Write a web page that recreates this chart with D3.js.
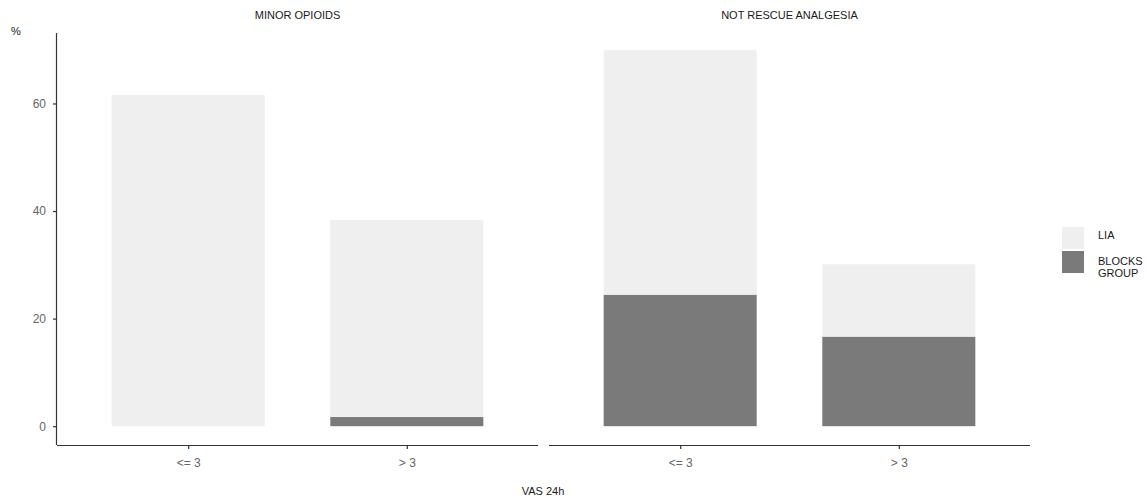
<!DOCTYPE html>
<html><head><meta charset="utf-8">
<script src="https://cdn.jsdelivr.net/npm/d3@7"></script>
<style>body{margin:0;background:#fff;} text{font-family:"Liberation Sans",Arial,sans-serif;}</style>
</head><body>
<svg id="chart" width="1146" height="499"></svg>
<script>
const panels = ["MINOR OPIOIDS", "NOT RESCUE ANALGESIA"];
const categories = ["<= 3", "> 3"];
const seriesNames = ["LIA", "BLOCKS GROUP"];
// stacked: BLOCKS GROUP at bottom, LIA on top (per panel, per category)
const blocksValues = [[0, 1.7], [24.4, 16.6]];
const liaValues = [[61.6, 36.6], [45.5, 13.5]];
const yTicks = [0, 20, 40, 60];
const colors = {"LIA": "#efefef", "BLOCKS GROUP": "#7a7a7a"};

const svg = d3.select("#chart");
const plotTop = 33, plotBottom = 445;
const y = d3.scaleLinear().domain([-3.5, 73.1]).range([plotBottom, plotTop]);
const panelX = [[57, 538], [549, 1030]];
const axisColor = "#333";
const tickTextColor = "#666";

panels.forEach((p, pi) => {
  const [x0, x1] = panelX[pi];
  // ggplot discrete expansion: centers at 0.6 and 1.6 units of 2.2
  const unit = (x1 - x0) / 2.2;
  const cx = d3.scalePoint().domain(categories).range([x0 + 0.6 * unit, x0 + 1.6 * unit]);
  const bw = 0.7 * unit;
  const g = svg.append("g");
  categories.forEach((c, ci) => {
    const b = blocksValues[pi][ci], l = liaValues[pi][ci];
    g.append("rect").attr("x", cx(c) - bw/2).attr("width", bw)
      .attr("y", y(b + l)).attr("height", y(b) - y(b + l)).attr("fill", colors["LIA"]);
    if (b > 0) g.append("rect").attr("x", cx(c) - bw/2).attr("width", bw)
      .attr("y", y(b)).attr("height", y(0) - y(b)).attr("fill", colors["BLOCKS GROUP"]);
  });
  const xa = g.append("g").attr("transform", `translate(0,${plotBottom})`)
    .call(d3.axisBottom(cx).tickSize(4).tickPadding(9).tickSizeOuter(0));
  xa.select(".domain").attr("d", `M${x0},0.5H${x1}`).attr("stroke", axisColor).attr("stroke-width", 1.2);
  xa.selectAll(".tick line").attr("stroke", axisColor).attr("stroke-width", 1.2);
  xa.selectAll(".tick text").attr("fill", tickTextColor).attr("font-size", 12);
  g.append("text").attr("x", (x0 + x1) / 2).attr("y", 19).attr("text-anchor", "middle")
    .attr("font-size", 11).attr("fill", "#1a1a1a").text(p);
});

const ya = svg.append("g").attr("transform", `translate(57,0)`)
  .call(d3.axisLeft(y).tickValues(yTicks).tickSize(4).tickPadding(7).tickSizeOuter(0));
ya.select(".domain").attr("d", `M-0.5,${plotTop}V${plotBottom}`).attr("stroke", axisColor).attr("stroke-width", 1.2);
ya.selectAll(".tick line").attr("stroke", axisColor).attr("stroke-width", 1.2);
ya.selectAll(".tick text").attr("fill", tickTextColor).attr("font-size", 12);

svg.append("text").attr("x", 11).attr("y", 35).attr("font-size", 11).attr("fill", "#1a1a1a").text("%");
svg.append("text").attr("x", 543).attr("y", 495).attr("text-anchor", "middle").attr("font-size", 11).attr("fill", "#1a1a1a").text("VAS 24h");

// legend
const lg = svg.append("g").attr("transform", "translate(1062,227)");
seriesNames.forEach((s, i) => {
  lg.append("rect").attr("x", 0).attr("y", i * 24).attr("width", 22).attr("height", 22).attr("fill", colors[s]);
  const t = lg.append("text").attr("x", 36).attr("font-size", 11).attr("fill", "#1a1a1a");
  if (s === "BLOCKS GROUP") {
    t.append("tspan").attr("x", 36).attr("y", i * 24 + 14).text("BLOCKS");
    t.append("tspan").attr("x", 36).attr("y", i * 24 + 26).text("GROUP");
  } else {
    t.attr("y", i * 24 + 12).text(s);
  }
});
</script>
</body></html>
